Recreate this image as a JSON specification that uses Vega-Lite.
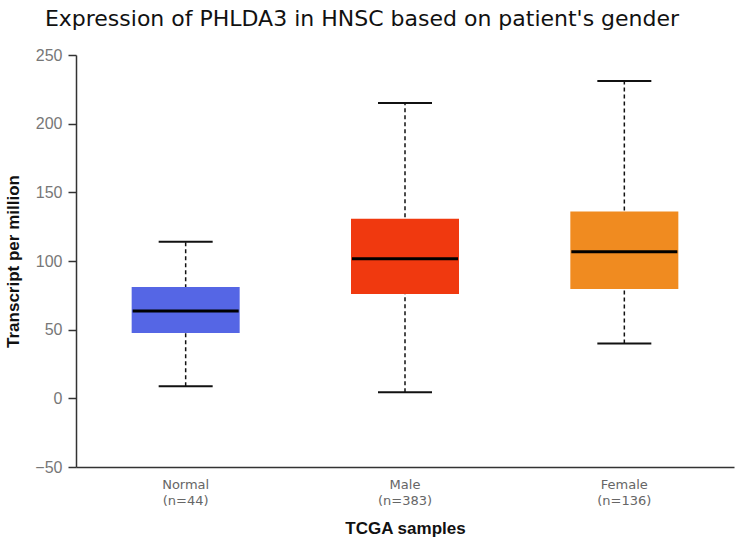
{
  "$schema": "https://vega.github.io/schema/vega-lite/v6.json",
  "autosize": "none",
  "width": 658,
  "height": 412,
  "padding": {"left": 76, "top": 55, "right": 1, "bottom": 79},
  "background": "white",
  "title": {
    "text": "Expression of PHLDA3 in HNSC based on patient's gender",
    "font": "DejaVu Sans",
    "fontSize": 22,
    "fontWeight": "normal",
    "color": "#111111",
    "anchor": "middle",
    "dx": -43,
    "offset": 16
  },
  "config": {
    "view": {"stroke": null},
    "axis": {"grid": false}
  },
  "data": {
    "values": [
      {"group": "Normal|(n=44)", "min": 8.8, "q1": 47.5, "median": 63.6, "q3": 81, "max": 114, "color": "#5566E5"},
      {"group": "Male|(n=383)", "min": 4.4, "q1": 76, "median": 101.6, "q3": 130.8, "max": 215, "color": "#F0390F"},
      {"group": "Female|(n=136)", "min": 40, "q1": 79.7, "median": 106.7, "q3": 136, "max": 231, "color": "#F08B20"}
    ]
  },
  "encoding": {
    "x": {
      "field": "group",
      "type": "nominal",
      "sort": null,
      "scale": {"paddingInner": 0, "paddingOuter": 0},
      "axis": {
        "title": "TCGA samples",
        "titleFont": "Liberation Sans",
        "titleFontSize": 17,
        "titleFontWeight": "bold",
        "titleColor": "#111111",
        "titlePadding": 13,
        "labelExpr": "split(datum.value, '|')",
        "labelFont": "DejaVu Sans",
        "labelFontSize": 13,
        "labelColor": "#666666",
        "labelLineHeight": 16,
        "labelAngle": 0,
        "labelPadding": 11,
        "ticks": false,
        "domainColor": "#333333",
        "domainWidth": 1.5
      }
    }
  },
  "layer": [
    {
      "mark": {"type": "rule", "strokeDash": [4, 3], "strokeWidth": 1.5, "color": "#111111"},
      "encoding": {
        "y": {
          "field": "min",
          "type": "quantitative",
          "scale": {"domain": [-50, 250], "nice": false},
          "axis": {
            "title": "Transcript per million",
            "titleFont": "Liberation Sans",
            "titleFontSize": 17,
            "titleFontWeight": "bold",
            "titleColor": "#111111",
            "titlePadding": 12,
            "values": [-50, 0, 50, 100, 150, 200, 250],
            "labelFont": "Liberation Sans",
            "labelFontSize": 16,
            "labelColor": "#777777",
            "labelPadding": 6,
            "tickSize": 8,
            "tickColor": "#333333",
            "tickWidth": 1.5,
            "domainColor": "#333333",
            "domainWidth": 1.5
          }
        },
        "y2": {"field": "max"}
      }
    },
    {
      "mark": {"type": "bar", "size": 108},
      "encoding": {
        "y": {"field": "q1", "type": "quantitative"},
        "y2": {"field": "q3"},
        "color": {"field": "color", "type": "nominal", "scale": null}
      }
    },
    {
      "mark": {"type": "tick", "size": 106, "thickness": 3, "color": "#000000", "opacity": 1},
      "encoding": {"y": {"field": "median", "type": "quantitative"}}
    },
    {
      "mark": {"type": "tick", "size": 54, "thickness": 2, "color": "#111111", "opacity": 1},
      "encoding": {"y": {"field": "max", "type": "quantitative"}}
    },
    {
      "mark": {"type": "tick", "size": 54, "thickness": 2, "color": "#111111", "opacity": 1},
      "encoding": {"y": {"field": "min", "type": "quantitative"}}
    }
  ]
}
